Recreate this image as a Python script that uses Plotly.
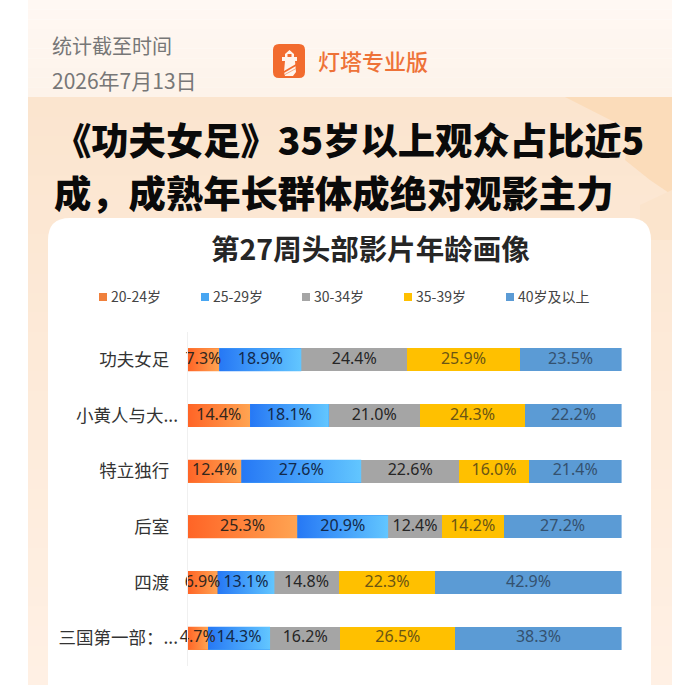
import plotly.graph_objects as go

movies = ["功夫女足", "小黄人与大...", "特立独行", "后室", "四渡", "三国第一部：..."]
age_groups = ["20-24岁", "25-29岁", "30-34岁", "35-39岁", "40岁及以上"]
age_20_24 = [7.3, 14.4, 12.4, 25.3, 6.9, 4.7]
age_25_29 = [18.9, 18.1, 27.6, 20.9, 13.1, 14.3]
age_30_34 = [24.4, 21.0, 22.6, 12.4, 14.8, 16.2]
age_35_39 = [25.9, 24.3, 16.0, 14.2, 22.3, 26.5]
age_40_up = [23.5, 22.2, 21.4, 27.2, 42.9, 38.3]
series = [age_20_24, age_25_29, age_30_34, age_35_39, age_40_up]

W, H = 700, 685
colors = ["#fb8238", "#3f9cf8", "#a5a5a5", "#ffc000", "#5b9bd5"]
gradients = {0: ("#ff6426", "#ffa452"), 1: ("#2678f5", "#62c6ff")}
label_colors = ["#33261c", "#12294a", "#262626", "#6b5514", "#34516f"]
swatch_colors = ["#f0803c", "#48a6f2", "#a5a5a5", "#ffc000", "#5b9bd5"]
legend_x = [99, 201, 302, 404, 506]
bar_w = 0.41
cjk = "Noto Sans CJK SC"


def px(x):
    return x / W


def py(y):
    return 1 - y / H


def rect(x0, y0, x1, y1, color):
    return dict(type="rect", xref="paper", yref="paper", layer="below", line_width=0,
                x0=px(x0), x1=px(x1), y0=py(y0), y1=py(y1), fillcolor=color)


def path(points, color):
    d = "M" + "L".join(f"{px(x):.5f},{py(y):.5f}" for x, y in points) + "Z"
    return dict(type="path", xref="paper", yref="paper", layer="below", line_width=0,
                path=d, fillcolor=color)


def rounded(x0, y0, x1, y1, r, color):
    # rounded box in paper units; x and y radius differ because paper is not square
    rx, ry = r / W, r / H
    a, b, c, d = px(x0), px(x1), py(y0), py(y1)
    p = (f"M{a+rx},{c}L{b-rx},{c}Q{b},{c} {b},{c-ry}L{b},{d+ry}Q{b},{d} {b-rx},{d}"
         f"L{a+rx},{d}Q{a},{d} {a},{d+ry}L{a},{c-ry}Q{a},{c} {a+rx},{c}Z")
    return dict(type="path", xref="paper", yref="paper", layer="below", line_width=0,
                path=p, fillcolor=color)


def text(x, y, s, size, color, anchor="left", family=cjk, weight="normal"):
    return dict(xref="paper", yref="paper", x=px(x), y=py(y), text=s,
                showarrow=False, xanchor=anchor, yanchor="middle",
                font=dict(size=size, color=color, family=family, weight=weight))


def mix(c0, c1, t):
    return "rgb(" + ",".join(str(round(a + (b - a) * t)) for a, b in zip(c0, c1)) + ")"


fig = go.Figure()

# stacked bars
for k, vals in enumerate(series):
    fig.add_trace(go.Bar(x=vals, y=list(range(len(movies))), orientation="h", name=age_groups[k],
                         width=bar_w, marker=dict(color=colors[k], line_width=0),
                         hoverinfo="x+name"))

# first two groups fade left to right, bars cannot do that so fill over them
for k, (c0, c1) in gradients.items():
    for i in range(len(movies)):
        start = sum(s[i] for s in series[:k])
        end = start + series[k][i]
        fig.add_trace(go.Scatter(x=[start, end, end, start, start],
                                 y=[i - bar_w / 2, i - bar_w / 2, i + bar_w / 2, i + bar_w / 2, i - bar_w / 2],
                                 mode="lines", line_width=0, fill="toself", hoverinfo="skip",
                                 fillgradient=dict(type="horizontal", colorscale=[[0, c0], [1, c1]]),
                                 showlegend=False))

# value labels
for k, vals in enumerate(series):
    mids = [sum(s[i] for s in series[:k]) + vals[i] / 2 for i in range(len(movies))]
    fig.add_trace(go.Scatter(x=mids, y=list(range(len(movies))), mode="text",
                             text=[f"{v:.1f}%" for v in vals], hoverinfo="skip", showlegend=False,
                             cliponaxis=False,
                             textfont=dict(size=16, color=label_colors[k], family="Noto Sans")))

# background: page colour fades, shapes have no gradient so stack thin bands
shapes = []
for j in range(10):
    y0 = 97 * j / 10
    shapes.append(rect(28, y0, 672, y0 + 98 / 10, mix((255, 248, 243), (253, 243, 234), j / 9)))
for j in range(30):
    y0 = 97 + 588 * j / 30
    shapes.append(rect(28, y0, 672, y0 + 21, mix((251, 229, 207), (255, 240, 228), j / 29)))
shapes += [
    path([(565, 97), (672, 97), (672, 195), (650, 180), (625, 160), (630, 130)], "#fbdcba"),
    path([(640, 205), (672, 190), (672, 240), (640, 240)], "#fbe4cc"),
    rounded(48, 218, 651, 760, 22, "#ffffff"),
    # logo
    rounded(273, 44, 305, 78, 6, "#f26b2e"),
    path([(289.5, 50), (294, 54), (294, 57), (297, 57), (297, 61), (295, 61), (296, 72),
          (293, 76), (285, 76), (284, 72), (285, 61), (282, 61), (282, 57), (285, 57), (285, 54)], "#fff4ec"),
    rect(287.5, 54, 291.5, 57, "#f26b2e"),
    path([(284, 71), (296, 64), (296, 66), (284, 73)], "#f26b2e"),
    path([(285, 74), (296, 68), (296, 69), (285, 75)], "#f6a57e"),
]
annotations = [
    text(50, 46, "统计截至时间", 20, "#777777"),
    text(50, 80, "2026年7月13日", 21, "#777777"),
    text(316, 60, "灯塔专业版", 22, "#ee7238", weight=500),
    text(52, 139, "《功夫女足》35岁以上观众占比近5", 37.3, "#0a0a0a", weight=900),
    text(52, 192, "成，成熟年长群体成绝对观影主力", 37.3, "#0a0a0a", weight=900),
    text(370, 247, "第27周头部影片年龄画像", 28.5, "#262626", anchor="center", weight=700),
]
for k, name in enumerate(age_groups):
    shapes.append(rect(legend_x[k], 293, legend_x[k] + 8, 301, swatch_colors[k]))
    annotations.append(text(legend_x[k] + 10, 296, name, 14, "#444444"))

# the cut names run almost up to the axis, the others stop short of it
ticktext = [m if "." in m else m + "\u2002" for m in movies]

fig.update_layout(
    width=W, height=H, margin=dict(l=0, r=0, t=0, b=0), barmode="stack",
    paper_bgcolor="white", plot_bgcolor="rgba(0,0,0,0)", showlegend=False,
    shapes=shapes, annotations=annotations, font=dict(family=cjk),
    xaxis=dict(domain=[px(187.6), px(621.6)], range=[0, 100], visible=False),
    yaxis=dict(domain=[py(666), py(332)], range=[len(movies) - 0.5, -0.5],
               tickmode="array", tickvals=list(range(len(movies))), ticktext=ticktext,
               tickfont=dict(size=17.5, color="#333333", family=cjk), ticks="",
               ticklabelstandoff=5, showgrid=False, zeroline=False,
               showline=True, linecolor="#f0f0f0", linewidth=1),
)

fig.write_html("out.html", config=dict(displayModeBar=False),
               post_script="document.body.style.margin='0';")
